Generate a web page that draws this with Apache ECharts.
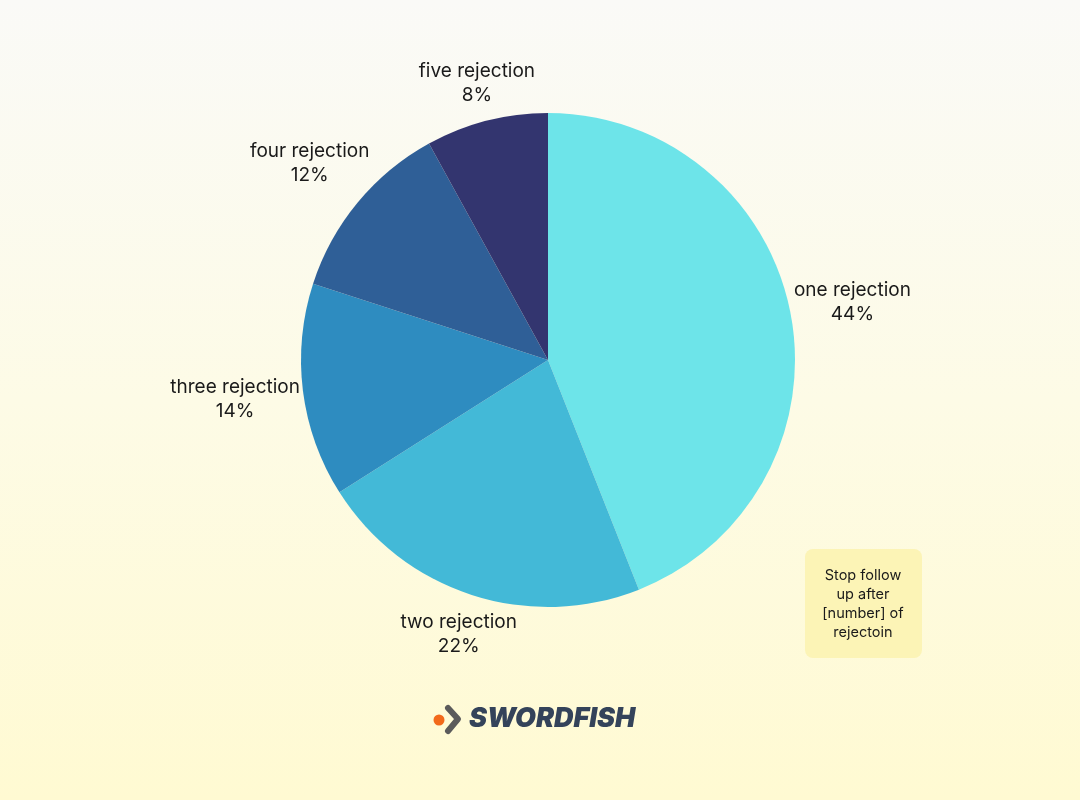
<!DOCTYPE html>
<html>
<head>
<meta charset="utf-8">
<script src="https://cdn.jsdelivr.net/npm/echarts@6/dist/echarts.min.js"></script>
<style>
html,body{margin:0;padding:0;}
#chart{width:1080px;height:800px;}
</style>
</head>
<body>
<div id="chart"></div>
<script>
var categories = ['one rejection', 'two rejection', 'three rejection', 'four rejection', 'five rejection'];
var values = [44, 22, 14, 12, 8];
var colors = ['#6de4e9', '#43b9d7', '#2e8cc0', '#2f5f97', '#33356f'];
var noteText = 'Stop follow\nup after\n[number] of\nrejectoin';
var brandText = 'SWORDFISH';

var chart = echarts.init(document.getElementById('chart'));

var pieData = categories.map(function (c, i) {
  return { name: c, value: values[i], itemStyle: { color: colors[i] } };
});

var option = {
  backgroundColor: {
    type: 'linear', x: 0, y: 0, x2: 0, y2: 1,
    colorStops: [
      { offset: 0, color: '#fafaf7' },
      { offset: 0.5, color: '#fdfbe6' },
      { offset: 1, color: '#fffad2' }
    ]
  },
  animation: false,
  series: [{
    type: 'pie',
    center: [548, 360],
    radius: [0, 247],
    startAngle: 90,
    clockwise: true,
    data: pieData,
    itemStyle: { borderWidth: 0 },
    emphasis: { disabled: true },
    labelLine: { show: false },
    label: {
      show: true,
      position: 'outside',
      formatter: '{b}\n{d}%',
      fontFamily: 'Inter, "Noto Sans", sans-serif',
      fontSize: 19,
      lineHeight: 24,
      color: '#1a1a1a'
    },
    labelLayout: function (p) {
      var lay = chart.getModel().getSeriesByIndex(0).getData().getItemLayout(p.dataIndex);
      var mid = (lay.startAngle + lay.endAngle) / 2;
      var vx = Math.cos(mid), vy = Math.sin(mid);
      var hw = p.labelRect.width / 2, hh = p.labelRect.height / 2;
      var d = lay.r + 1 + hw * Math.abs(vx) + hh * Math.abs(vy);
      return { x: lay.cx + d * vx, y: lay.cy + d * vy, align: 'center', verticalAlign: 'middle' };
    }
  }],
  graphic: [
    {
      type: 'rect',
      shape: { x: 805, y: 549, width: 117, height: 109, r: 8 },
      style: { fill: '#fcf4b6' }
    },
    {
      type: 'text',
      x: 863, y: 604,
      style: {
        text: noteText,
        align: 'center', verticalAlign: 'middle',
        fontFamily: 'Inter, "Noto Sans", sans-serif',
        fontSize: 14.5, lineHeight: 19,
        fill: '#1a1a1a'
      }
    },
    {
      type: 'circle',
      shape: { cx: 439, cy: 720, r: 5.5 },
      style: { fill: '#f26a1b' }
    },
    {
      type: 'polyline',
      shape: { points: [[448, 708], [458, 719], [448, 731]] },
      style: { stroke: '#5b5b5b', lineWidth: 6, fill: null, lineJoin: 'round', lineCap: 'round' }
    },
    {
      type: 'text',
      x: 469, y: 719,
      style: {
        text: brandText,
        verticalAlign: 'middle',
        fontFamily: 'Inter, "Noto Sans", sans-serif',
        fontSize: 27, fontWeight: 900, fontStyle: 'italic',
        fill: '#34435a'
      }
    }
  ]
};
chart.setOption(option);
</script>
</body>
</html>
